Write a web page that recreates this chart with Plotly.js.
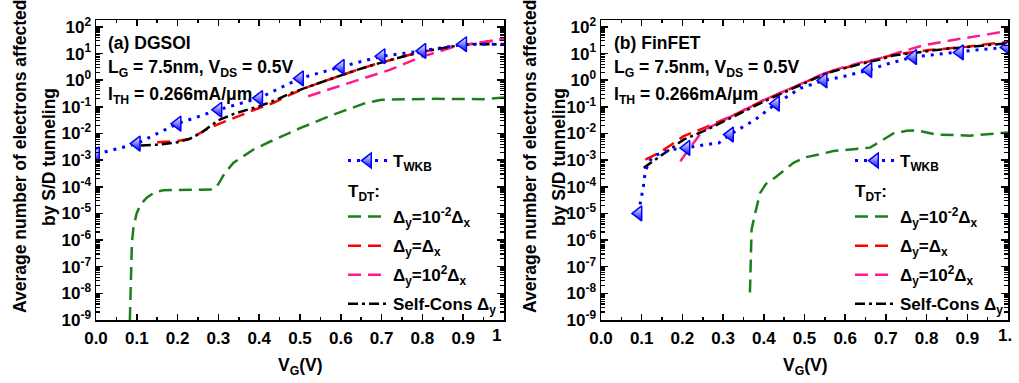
<!DOCTYPE html>
<html><head><meta charset="utf-8">
<script src="https://cdn.plot.ly/plotly-3.0.1.min.js"></script>
<style>html,body{margin:0;padding:0;background:#fff}#chart{width:1019px;height:383px}</style>
</head><body><div id="chart"></div>
<script>
// ---------- Data ----------
// Panel (a) DGSOI
const a_wkb_v = [0, 0.1, 0.2, 0.3, 0.4, 0.5, 0.6, 0.7, 0.8, 0.9, 1.0];
const a_wkb_n = [1.66e-3, 4.17e-3, 2.34e-2, 7.76e-2, 0.214, 1.17, 3.16, 7.94, 12.6, 22.4, 22.4];
const a_wkb_mark_v = [0, 0.1, 0.2, 0.3, 0.4, 0.5, 0.6, 0.7, 0.8, 0.9];
const a_wkb_mark_n = [1.66e-3, 4.17e-3, 2.34e-2, 7.76e-2, 0.214, 1.17, 3.16, 7.94, 12.6, 22.4];

const a_g_v = [0.083, 0.085, 0.088, 0.092, 0.1, 0.11, 0.125, 0.145, 0.165, 0.2, 0.25, 0.287, 0.3, 0.315, 0.337, 0.386, 0.427, 0.5, 0.58, 0.66, 0.70, 0.745, 0.83, 0.95, 1.0];
const a_g_n = [1e-9, 3.16e-8, 7.94e-7, 3.16e-6, 1.05e-5, 2.24e-5, 3.98e-5, 6.31e-5, 7.41e-5, 7.59e-5, 7.59e-5, 7.94e-5, 1.26e-4, 3.16e-4, 7.94e-4, 2.51e-3, 5.01e-3, 1.58e-2, 5.01e-2, 0.138, 0.186, 0.195, 0.2, 0.195, 0.224];

const a_r_v = [0.15, 0.2, 0.23, 0.27, 0.3, 0.34, 0.39, 0.435, 0.475, 0.52, 0.557, 0.6, 0.64, 0.68, 0.72, 0.76, 0.8, 0.84, 0.883, 0.925, 0.96, 1.0];
const a_r_n = [4.68e-3, 5.25e-3, 6.31e-3, 1.41e-2, 2.24e-2, 3.98e-2, 7.94e-2, 0.141, 0.282, 0.562, 0.891, 1.48, 2.45, 3.8, 5.75, 8.32, 11.7, 15.1, 19.5, 23.4, 28.2, 35.5];

const a_p_v = [0.52, 0.557, 0.6, 0.64, 0.68, 0.72, 0.76, 0.8, 0.84, 0.883, 0.925, 0.96, 1.0];
const a_p_n = [0.251, 0.380, 0.631, 0.977, 1.55, 2.45, 4.37, 7.76, 11.7, 19.5, 23.4, 28.2, 35.5];

const a_sc_v = [0.11, 0.15, 0.2, 0.23, 0.26, 0.3, 0.34, 0.4, 0.44, 0.475, 0.52, 0.557, 0.6, 0.64, 0.68, 0.72, 0.76, 0.8, 0.84, 0.883, 0.925, 0.96, 1.0];
const a_sc_n = [3.55e-3, 3.8e-3, 4.68e-3, 6.31e-3, 1.12e-2, 3.16e-2, 5.62e-2, 0.105, 0.178, 0.316, 0.562, 0.891, 1.48, 2.45, 3.8, 5.75, 8.32, 11.7, 15.1, 19.5, 22.4, 22.4, 22.4];

// Panel (b) FinFET
const b_wkb_v = [0.092, 0.096, 0.1, 0.104, 0.109, 0.121, 0.137, 0.15, 0.174, 0.21, 0.256, 0.289, 0.317, 0.379, 0.43, 0.49, 0.547, 0.596, 0.657, 0.71, 0.767, 0.825, 0.882, 0.939, 0.997, 1.0];
const b_wkb_n = [1e-5, 2e-5, 4.47e-5, 1e-4, 3.98e-4, 1e-3, 1.58e-3, 1.91e-3, 2.51e-3, 2.88e-3, 3.8e-3, 4.37e-3, 9.12e-3, 3.31e-2, 0.132, 0.501, 0.977, 1.38, 2.4, 4.37, 7.41, 9.33, 11.0, 14.5, 17.0, 17.0];
const b_wkb_mark_v = [0.092, 0.21, 0.317, 0.43, 0.547, 0.657, 0.767, 0.882, 0.997];
const b_wkb_mark_n = [1e-5, 2.88e-3, 9.12e-3, 0.132, 0.977, 2.4, 7.41, 11.0, 17.0];

const b_g_v = [0.366, 0.367, 0.37, 0.379, 0.391, 0.405, 0.416, 0.432, 0.473, 0.5, 0.538, 0.571, 0.6, 0.661, 0.686, 0.718, 0.751, 0.775, 0.825, 0.874, 0.907, 1.0];
const b_g_n = [1.07e-8, 1e-7, 2.51e-6, 1.05e-5, 5.89e-5, 1.26e-4, 1.66e-4, 2.51e-4, 7.94e-4, 1.26e-3, 1.66e-3, 2.19e-3, 2.4e-3, 2.95e-3, 5.01e-3, 1e-2, 1.26e-2, 1.32e-2, 9.12e-3, 8.32e-3, 8.32e-3, 1.1e-2];

const b_r_v = [0.109, 0.146, 0.203, 0.268, 0.334, 0.40, 0.473, 0.555, 0.637, 0.718, 0.80, 0.899, 1.0];
const b_r_n = [1.05e-3, 2e-3, 7.94e-3, 2e-2, 5.62e-2, 0.178, 0.537, 1.91, 4.17, 8.91, 13.2, 18.2, 27.5];

const b_p_v = [0.195, 0.22, 0.252, 0.268, 0.334, 0.40, 0.473, 0.555, 0.637, 0.686, 0.74, 0.792, 0.85, 0.899, 0.95, 1.0];
const b_p_n = [9.12e-4, 3.16e-3, 1.38e-2, 1.74e-2, 5.62e-2, 0.178, 0.55, 2.0, 4.57, 6.76, 12.0, 20.4, 29.5, 38.0, 52.5, 72.4];

const b_sc_v = [0.105, 0.146, 0.203, 0.268, 0.334, 0.40, 0.473, 0.555, 0.637, 0.686, 0.718, 0.792, 0.85, 0.899, 0.95, 1.0];
const b_sc_n = [5.13e-4, 1.38e-3, 5.89e-3, 1.58e-2, 5.01e-2, 0.158, 0.501, 1.86, 4.07, 6.03, 8.51, 12.0, 15.1, 17.4, 20.4, 24.5];

// Tick labels
const xTickVals = [0, 0.1, 0.2, 0.3, 0.4, 0.5, 0.6, 0.7, 0.8, 0.9];
const xTickText = ['0.0', '0.1', '0.2', '0.3', '0.4', '0.5', '0.6', '0.7', '0.8', '0.9'];
const yTickVals = [1e-9, 1e-8, 1e-7, 1e-6, 1e-5, 1e-4, 1e-3, 1e-2, 1e-1, 1e0, 1e1, 1e2];
const yTickText = ['10<sup>-9</sup>', '10<sup>-8</sup>', '10<sup>-7</sup>', '10<sup>-6</sup>', '10<sup>-5</sup>', '10<sup>-4</sup>',
                   '10<sup>-3</sup>', '10<sup>-2</sup>', '10<sup>-1</sup>', '10<sup>0</sup>', '10<sup>1</sup>', '10<sup>2</sup>'];

// Legend names
const nameWKB = 'T<sub>WKB</sub>';
const nameDT = 'T<sub>DT</sub>:';
const nameG = 'Δ<sub>y</sub>=10<sup>-2</sup>Δ<sub>x</sub>';
const nameR = 'Δ<sub>y</sub>=Δ<sub>x</sub>';
const nameP = 'Δ<sub>y</sub>=10<sup>2</sup>Δ<sub>x</sub>';
const nameSC = 'Self-Cons Δ<sub>y</sub>';

// ---------- Styles ----------
const FONT = 'Liberation Sans, Arial, sans-serif';
const BLUE = '#0000ff', GREEN = '#1c7f1c', RED = '#ff0000', PINK = '#ff1a8c', BLACK = '#000000';
const DASH = '13px,7px';
const DASHDOT = '10px,4px,3px,4px';
const DOT = '3px,6px';
const LW = 2.5;

const W = 1019, H = 383;
const px = v => v / W;
const py = v => 1 - v / H;

function panelTraces(sfx, legA, legB, d) {
  const xa = 'x' + sfx, ya = 'y' + sfx;
  const tr = [];
  tr.push({x: d.gv, y: d.gn, xaxis: xa, yaxis: ya, mode: 'lines', name: nameG, legend: legB, legendgroup: legB + 'g',
           line: {color: GREEN, width: LW, dash: DASH}});
  tr.push({x: d.rv, y: d.rn, xaxis: xa, yaxis: ya, mode: 'lines', name: nameR, legend: legB, legendgroup: legB + 'r',
           line: {color: RED, width: LW, dash: DASH}});
  tr.push({x: d.pv, y: d.pn, xaxis: xa, yaxis: ya, mode: 'lines', name: nameP, legend: legB, legendgroup: legB + 'p',
           line: {color: PINK, width: LW, dash: DASH}});
  tr.push({x: d.scv, y: d.scn, xaxis: xa, yaxis: ya, mode: 'lines', name: nameSC, legend: legB, legendgroup: legB + 's',
           line: {color: BLACK, width: LW, dash: DASHDOT}});
  tr.push({x: d.wv, y: d.wn, xaxis: xa, yaxis: ya, mode: 'lines', showlegend: false,
           line: {color: BLUE, width: 3, dash: DOT}});
  tr.push({x: d.mv, y: d.mn, xaxis: xa, yaxis: ya, mode: 'markers', showlegend: false,
           marker: {symbol: 'triangle-left', size: 13, color: '#ffffff', gradient: {type: 'vertical', color: BLUE},
                    line: {color: BLUE, width: 1.5}}});
  // legend-only entry for T_WKB (line + marker)
  tr.push({x: [null], y: [null], xaxis: xa, yaxis: ya, mode: 'lines+markers', name: nameWKB, legend: legA,
           line: {color: BLUE, width: 3, dash: DOT},
           marker: {symbol: 'triangle-left', size: 13, color: '#ffffff', gradient: {type: 'vertical', color: BLUE},
                    line: {color: BLUE, width: 1.5}}});
  return tr;
}

const traces = [].concat(
  panelTraces('', 'legend', 'legend2', {gv: a_g_v, gn: a_g_n, rv: a_r_v, rn: a_r_n, pv: a_p_v, pn: a_p_n,
    scv: a_sc_v, scn: a_sc_n, wv: a_wkb_v, wn: a_wkb_n, mv: a_wkb_mark_v, mn: a_wkb_mark_n}),
  panelTraces('2', 'legend3', 'legend4', {gv: b_g_v, gn: b_g_n, rv: b_r_v, rn: b_r_n, pv: b_p_v, pn: b_p_n,
    scv: b_sc_v, scn: b_sc_n, wv: b_wkb_v, wn: b_wkb_n, mv: b_wkb_mark_v, mn: b_wkb_mark_n})
);

const tickFont = {family: FONT, size: 17, color: '#000', weight: 'bold'};
function xAxis(domain, anchor) {
  return {domain: domain, anchor: anchor, range: [0, 1.0], tickmode: 'array', tickvals: xTickVals, ticktext: xTickText,
    ticks: 'inside', ticklen: 6, tickwidth: 1.5, tickcolor: '#000', showline: true, linecolor: '#000', linewidth: 1.5,
    mirror: 'ticks', showgrid: false, zeroline: false, tickfont: tickFont, ticklabelstandoff: 2, automargin: false,
    minor: {dtick: 0.05, tick0: 0, ticks: 'inside', ticklen: 3, tickwidth: 1.5, tickcolor: '#000', showgrid: false}};
}
function yAxis(anchor) {
  return {domain: [1 - 320 / H, 1 - 20 / H], anchor: anchor, type: 'log', range: [-9, 2.26], tickmode: 'array',
    tickvals: yTickVals, ticktext: yTickText, ticks: 'inside', ticklen: 7, tickwidth: 1.5, tickcolor: '#000',
    showline: true, linecolor: '#000', linewidth: 1.5, mirror: 'ticks', showgrid: false, zeroline: false,
    tickfont: tickFont, automargin: false,
    minor: {dtick: 'D1', ticks: 'inside', ticklen: 4, tickwidth: 1.2, tickcolor: '#000', showgrid: false}};
}

const legFont = {family: FONT, size: 17, color: '#000', weight: 'bold'};
function legend(xpx, ytop) {
  return {x: px(xpx), y: py(ytop), xanchor: 'left', yanchor: 'top', bgcolor: 'rgba(0,0,0,0)', borderwidth: 0,
    font: legFont, itemwidth: 40, tracegroupgap: 4, itemclick: false, itemdoubleclick: false};
}

const annFont = {family: FONT, size: 17.5, color: '#000', weight: 'bold'};
function ann(text, x, y, xanchor, extra) {
  return Object.assign({text: text, x: px(x), y: py(y), xref: 'paper', yref: 'paper', xanchor: xanchor || 'left',
    yanchor: 'middle', showarrow: false, font: annFont}, extra || {});
}

const annotations = [
  ann('(a) DGSOI', 106, 43),
  ann('L<sub>G</sub> = 7.5nm, V<sub>DS</sub> = 0.5V', 106, 68),
  ann('I<sub>TH</sub> = 0.266mA/μm', 106, 95),
  ann('(b) FinFET', 612, 43),
  ann('L<sub>G</sub> = 7.5nm, V<sub>DS</sub> = 0.5V', 612, 68),
  ann('I<sub>TH</sub> = 0.266mA/μm', 612, 95),
  ann(nameDT, 346, 193, 'left', {font: legFont}),
  ann(nameDT, 853, 193, 'left', {font: legFont}),
  ann('Average number of electrons affected', 20, 157, 'center', {textangle: -90}),
  ann('by S/D tunneling', 49, 157, 'center', {textangle: -90}),
  ann('Average number of electrons affected', 530, 157, 'center', {textangle: -90}),
  ann('by S/D tunneling', 559, 157, 'center', {textangle: -90}),
  ann('V<sub>G</sub>(V)', 300, 366, 'center'),
  ann('V<sub>G</sub>(V)', 805, 366, 'center'),
  ann('1', 490, 335, 'left', {font: tickFont}),
  ann('1.', 996, 335, 'left', {font: tickFont})
];

const layout = {
  width: W, height: H, margin: {l: 0, r: 0, t: 0, b: 0, autoexpand: false}, paper_bgcolor: '#fff', plot_bgcolor: '#fff',
  font: {family: FONT, color: '#000'},
  showlegend: true,
  xaxis: xAxis([96 / W, 504 / W], 'y'),
  yaxis: yAxis('x'),
  xaxis2: xAxis([601 / W, 1008 / W], 'y2'),
  yaxis2: yAxis('x2'),
  legend: legend(343, 143),
  legend2: legend(343, 199),
  legend3: legend(850, 143),
  legend4: legend(850, 199),
  annotations: annotations
};

Plotly.newPlot('chart', traces, layout, {staticPlot: true, displayModeBar: false});
</script>
</body></html>
